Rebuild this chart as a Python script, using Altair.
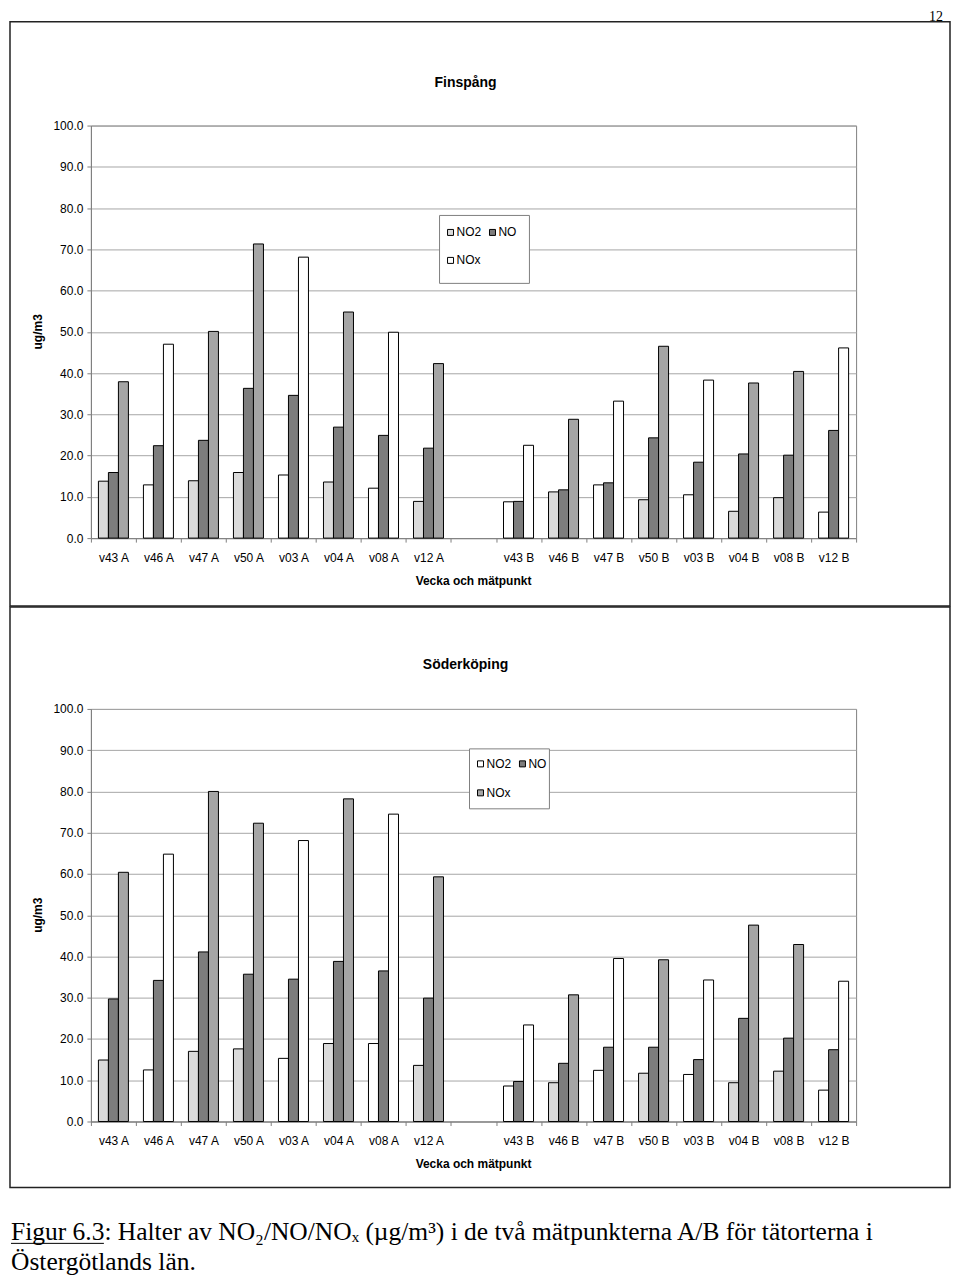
import altair as alt
import pandas as pd

# ---------------- data ----------------
CATS_A = ["v43 A", "v46 A", "v47 A", "v50 A", "v03 A", "v04 A", "v08 A", "v12 A"]
CATS_B = ["v43 B", "v46 B", "v47 B", "v50 B", "v03 B", "v04 B", "v08 B", "v12 B"]
GAP = " "
SERIES = ["NO2", "NO", "NOx"]
Y_TICKS = [0, 10, 20, 30, 40, 50, 60, 70, 80, 90, 100]

FIN_NO2 = [13.8, 12.9, 13.9, 15.9, 15.3, 13.6, 12.1, 8.9, 8.8, 11.2, 12.9, 9.3, 10.5, 6.5, 9.8, 6.3]
FIN_NO = [15.9, 22.4, 23.7, 36.3, 34.6, 26.9, 24.9, 21.8, 8.9, 11.7, 13.4, 24.3, 18.4, 20.4, 20.1, 26.1]
FIN_NOX = [37.9, 47.0, 50.1, 71.3, 68.1, 54.8, 49.9, 42.3, 22.5, 28.8, 33.2, 46.5, 38.3, 37.6, 40.4, 46.1]

SOD_NO2 = [14.9, 12.5, 17.0, 17.6, 15.3, 18.9, 18.9, 13.6, 8.6, 9.4, 12.4, 11.7, 11.4, 9.4, 12.2, 7.6]
SOD_NO = [29.7, 34.2, 41.1, 35.7, 34.5, 38.8, 36.5, 29.9, 9.7, 14.1, 18.0, 18.0, 15.0, 25.0, 20.2, 17.4]
SOD_NOX = [60.4, 64.8, 80.0, 72.3, 68.1, 78.2, 74.5, 59.3, 23.4, 30.7, 39.5, 39.2, 34.3, 47.6, 42.9, 34.0]

# ---------------- styling ----------------
WHITE_GROUPS = ["v46 A", "v03 A", "v08 A", "v43 B", "v47 B", "v03 B", "v12 B"]
TONE = {"NO2": "#dadada", "NO": "#7d7d7d", "NOx": "#a5a5a5"}
WHITE = "#ffffff"
FONT = "Liberation Sans"
SERIF = "Liberation Serif"
W, H = 766, 413
DOMAIN = CATS_A + [GAP] + CATS_B
ONE = pd.DataFrame({"k": [0]})


def table(no2, no, nox):
    rows = []
    for i, c in enumerate(CATS_A + CATS_B):
        for s, vals in zip(SERIES, (no2, no, nox)):
            tone = TONE[s]
            if s != "NO" and c in WHITE_GROUPS:
                tone = WHITE
            rows.append({"cat": c, "series": s, "value": vals[i], "tone": tone})
    return pd.DataFrame(rows)


def rect(x, x2, y, y2, fill, stroke="black", sw=1.0):
    return alt.Chart(ONE).mark_rect(fill=fill, stroke=stroke, strokeWidth=sw).encode(
        x=alt.value(x), x2=alt.value(x2), y=alt.value(y), y2=alt.value(y2))


def anchor(x, y):
    # invisible element fixing the layout bounds
    return alt.Chart(ONE).mark_rect(fill="transparent", strokeWidth=0).encode(
        x=alt.value(x), x2=alt.value(x + 1), y=alt.value(y), y2=alt.value(y + 1))


def text(t, x, y, size=12, weight="normal", align="center", baseline="middle",
         font=FONT, angle=0):
    return alt.Chart(ONE).mark_text(
        text=t, font=font, fontSize=size, fontWeight=weight, align=align,
        baseline=baseline, angle=angle, color="black").encode(
        x=alt.value(x), y=alt.value(y))


def bars(df):
    return alt.Chart(df).mark_bar(stroke="black", strokeWidth=1).encode(
        x=alt.X("cat:N", sort=DOMAIN,
                scale=alt.Scale(domain=DOMAIN, paddingInner=0, paddingOuter=0),
                axis=alt.Axis(title=None, labelAngle=0, tickBand="extent",
                              labelFontSize=12, labelPadding=10, tickSize=4,
                              labelColor="black", grid=False)),
        xOffset=alt.XOffset("series:N",
                            scale=alt.Scale(domain=SERIES, paddingInner=0, paddingOuter=0.75)),
        y=alt.Y("value:Q", scale=alt.Scale(domain=[0, 100], nice=False),
                axis=alt.Axis(title=None, values=Y_TICKS, format=".1f",
                              labelFontSize=12, labelPadding=4, tickSize=4,
                              labelColor="black", grid=True)),
        fill=alt.Fill("tone:N", scale=None, legend=None),
    )


def legend(x0, y0, x1, y1, row1, row2, dx2, sw_cols):
    c_no2, c_no, c_nox = sw_cols
    layers = [rect(x0, x1, y0, y1, "white", stroke="#808080", sw=1)]
    sx = x0 + 8
    layers += [
        rect(sx, sx + 6, row1 - 3, row1 + 3, c_no2),
        text("NO2", sx + 9, row1, align="left"),
        rect(sx + dx2, sx + dx2 + 6, row1 - 3, row1 + 3, c_no),
        text("NO", sx + dx2 + 9, row1, align="left"),
        rect(sx, sx + 6, row2 - 3, row2 + 3, c_nox),
        text("NOx", sx + 9, row2, align="left"),
    ]
    return layers


def panel(title, df, box_top, box_bot, title_y, leg, anchor_y, extra=None):
    layers = [anchor(-100, anchor_y),
              rect(-81, 860, box_top, box_bot, "transparent", stroke="#222222", sw=1.5),
              bars(df)]
    layers += leg
    layers += [
        text(title, 375, title_y, size=14, weight="bold"),
        text("ug/m3", -53, H / 2, size=12, weight="bold", angle=270),
        text("Vecka och mätpunkt", 383, 456, size=12, weight="bold"),
    ]
    if extra:
        layers += extra
    return alt.layer(*layers).properties(width=W, height=H)


top_extra = [text("12", 853, -116, size=14, font=SERIF, align="right",
                  baseline="top")]
top = panel("Finspång", table(FIN_NO2, FIN_NO, FIN_NOX), -104, 481, -43,
            legend(349, 90, 439, 158, 107, 135, 42, (TONE["NO2"], TONE["NO"], WHITE)),
            -140, top_extra)

caption1 = "Figur 6.3: Halter av NO\u2082/NO/NO\u2093 (\u00b5g/m\u00b3) i de två mätpunkterna A/B för tätorterna i"
caption2 = "Östergötlands län."
bot_extra = [
    text(caption1, -80, 532, size=25.5, font=SERIF, align="left", baseline="alphabetic"),
    text(caption2, -80, 562, size=25.5, font=SERIF, align="left", baseline="alphabetic"),
    alt.Chart(ONE).mark_rule(color="black", strokeWidth=1).encode(
        x=alt.value(-80), x2=alt.value(13), y=alt.value(535)),
]
bottom = panel("Söderköping", table(SOD_NO2, SOD_NO, SOD_NOX), -102, 479, -44,
               legend(379, 40, 459, 100, 55, 84, 42, (WHITE, TONE["NO"], TONE["NOx"])),
               -102, bot_extra)

chart = alt.vconcat(top, bottom, spacing=-3).properties(
    padding={"left": -18, "top": -24, "right": 0, "bottom": 0}).configure(
    font=FONT).configure_view(stroke="#808080").configure_axis(
    domainColor="#808080", tickColor="#808080", gridColor="#a6a6a6",
    labelFont=FONT)

chart.save("out.html", embed_options={"renderer": "svg", "actions": False})
